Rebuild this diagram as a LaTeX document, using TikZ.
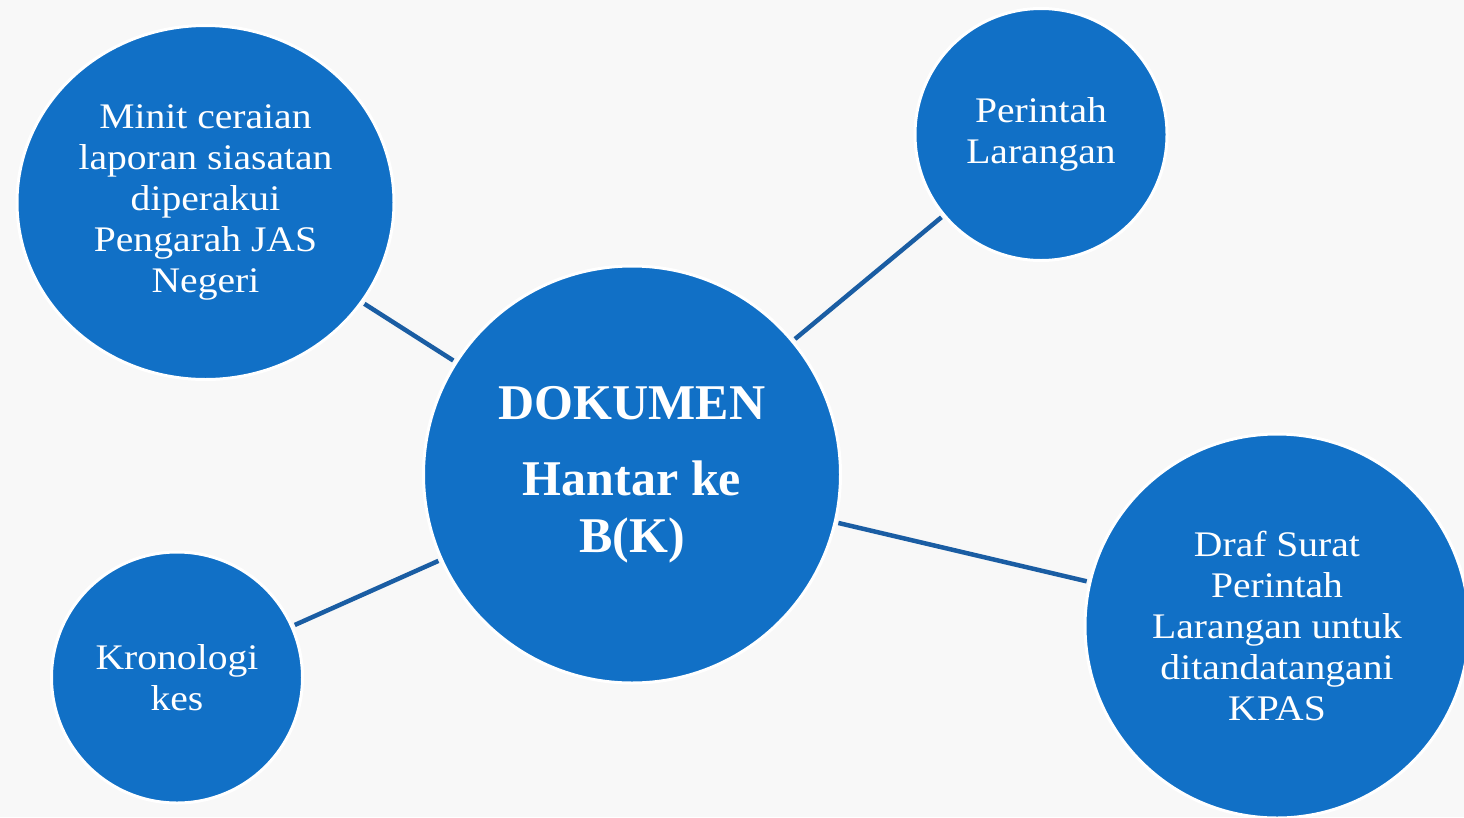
\documentclass[tikz,border=0pt]{standalone}
\usepackage{fontspec}
\setmainfont[FakeStretch=1.1]{Liberation Serif}
\newfontfamily\headfont{Liberation Serif}
\usetikzlibrary{shapes.geometric}
\definecolor{bubblefill}{HTML}{1170C6}
\definecolor{linkblue}{HTML}{1A5DA3}
\definecolor{paper}{HTML}{F8F8F8}
\begin{document}
\begin{tikzpicture}[x=1pt,y=-1pt,
  bubble/.style={circle, fill=bubblefill, draw=white, line width=3pt,
    text=white, align=center, inner sep=0pt,
    font=\fontsize{36}{41}\selectfont},
  link/.style={draw=linkblue, line width=4.5pt,
    shorten <=2pt, shorten >=2pt}]
  % page
  \fill[paper] (0,0) rectangle (1464,817);
  \useasboundingbox (0,0) rectangle (1464,817);
  \clip (0,0) rectangle (1464,817);

  % central topic
  \node[bubble, minimum size=417pt,
        font=\headfont\bfseries\fontsize{50}{57}\selectfont]
        (doc) at (632,474.5) {DOKUMEN\\[19pt]Hantar ke\\B(K)};

  % satellite topics
  \node[bubble, ellipse, minimum width=377pt, minimum height=354pt]
        (minit) at (205.5,202.5)
        {Minit ceraian\\laporan siasatan\\diperakui\\Pengarah JAS\\Negeri};
  \node[bubble, minimum size=252pt] (perintah) at (1041,134.5)
        {Perintah\\Larangan};
  \node[bubble, minimum size=251pt] (kronologi) at (177,677.5)
        {Kronologi\\kes};
  \node[bubble, minimum size=384pt] (draf) at (1277,626)
        {Draf Surat\\Perintah\\Larangan untuk\\ditandatangani\\KPAS};

  % connectors
  \draw[link] (doc) -- (minit);
  \draw[link] (doc) -- (perintah);
  \draw[link] (doc) -- (draf);
  \draw[link] (doc) -- (kronologi);
\end{tikzpicture}
\end{document}
